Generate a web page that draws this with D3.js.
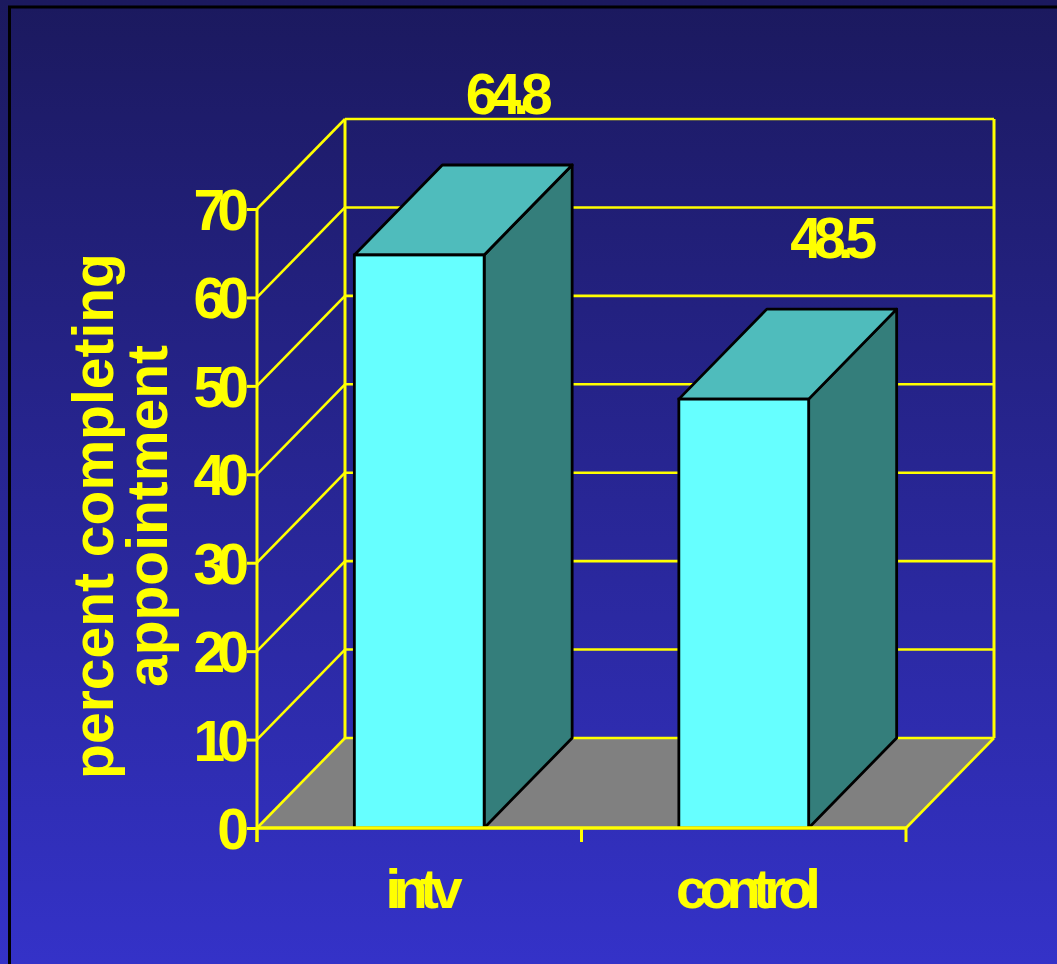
<!DOCTYPE html>
<html>
<head>
<meta charset="utf-8">
<script src="https://cdn.jsdelivr.net/npm/d3@7/dist/d3.min.js"></script>
<style>
  html, body { margin: 0; padding: 0; background: #3232c6; }
  svg { display: block; }
  text { font-family: "Liberation Sans", Arial, sans-serif; font-weight: bold; fill: #ffff00; }
</style>
</head>
<body>
<script>
const categories = ["intv", "control"];
const values = [64.8, 48.5];
const valueLabels = ["64.8", "48.5"];
const yTicks = [0, 10, 20, 30, 40, 50, 60, 70];
const titleLines = ["percent completing", "appointment"];

const W = 1057, H = 964;
const svg = d3.select("body").append("svg").attr("width", W).attr("height", H);

const defs = svg.append("defs");
const grad = defs.append("linearGradient").attr("id", "bg").attr("x1", 0).attr("y1", 0).attr("x2", 0).attr("y2", 1);
grad.append("stop").attr("offset", "0%").attr("stop-color", "#1b195e");
grad.append("stop").attr("offset", "100%").attr("stop-color", "#3432c8");
svg.append("rect").attr("width", W).attr("height", H).attr("fill", "url(#bg)");
svg.append("rect").attr("x", 9.5).attr("y", 7).attr("width", W + 20).attr("height", H + 20)
  .attr("fill", "none").attr("stroke", "#000").attr("stroke-width", 3);

const x0 = 257, x1 = 906;
const y = d3.scaleLinear().domain([0, 70]).range([828, 209]);
const x = d3.scaleBand().domain(categories).range([x0, x1]).paddingInner(0.6).paddingOuter(0.3);
const dx = 88, dy = -90;
const yellow = "#ffff00";

const g = svg.append("g");

// floor
const y0 = y(0);
g.append("path")
  .attr("d", `M${x0},${y0}L${x1},${y0}L${x1 + dx},${y0 + dy}L${x0 + dx},${y0 + dy}Z`)
  .attr("fill", "#808080");

// back wall gridlines
g.selectAll("line.grid").data(yTicks).join("line").attr("class", "grid")
  .attr("x1", x0 + dx).attr("x2", x1 + dx)
  .attr("y1", d => y(d) + dy).attr("y2", d => y(d) + dy)
  .attr("stroke", yellow).attr("stroke-width", 2.6);
// side wall diagonals
g.selectAll("line.diag").data(yTicks).join("line").attr("class", "diag")
  .attr("x1", x0).attr("x2", x0 + dx)
  .attr("y1", d => y(d)).attr("y2", d => y(d) + dy)
  .attr("stroke", yellow).attr("stroke-width", 2.6);
// back verticals
[x0 + dx, x1 + dx].forEach(xx => {
  g.append("line").attr("x1", xx).attr("x2", xx).attr("y1", y(70) + dy).attr("y2", y(0) + dy)
    .attr("stroke", yellow).attr("stroke-width", 3);
});
// floor right diagonal
g.append("line").attr("x1", x1).attr("y1", y0).attr("x2", x1 + dx).attr("y2", y0 + dy)
  .attr("stroke", yellow).attr("stroke-width", 2.6);

// bars
const bars = g.selectAll("g.bar").data(categories).join("g").attr("class", "bar");
bars.each(function (c, i) {
  const b = d3.select(this);
  const xl = x(c), xr = x(c) + x.bandwidth();
  const yt = y(values[i]), yb = y(0);
  // side
  b.append("path")
    .attr("d", `M${xr},${yb}L${xr + dx},${yb + dy}L${xr + dx},${yt + dy}L${xr},${yt}Z`)
    .attr("fill", "#347e7b").attr("stroke", "#000").attr("stroke-width", 2.8).attr("stroke-linejoin", "round");
  // top
  b.append("path")
    .attr("d", `M${xl},${yt}L${xl + dx},${yt + dy}L${xr + dx},${yt + dy}L${xr},${yt}Z`)
    .attr("fill", "#4fbcbc").attr("stroke", "#000").attr("stroke-width", 2.8).attr("stroke-linejoin", "round");
  // front
  b.append("rect").attr("x", xl).attr("y", yt).attr("width", xr - xl).attr("height", yb - yt)
    .attr("fill", "#66ffff").attr("stroke", "#000").attr("stroke-width", 2.8);
  // value label
  b.append("text")
    .attr("x", (xl + xr) / 2 + dx - 2)
    .attr("y", yt + dy - 51)
    .attr("text-anchor", "middle")
    .attr("font-size", 57).attr("letter-spacing", "-8px")
    .text(valueLabels[i]);
});

// front axis line
g.append("line").attr("x1", x0).attr("x2", x0).attr("y1", y(70)).attr("y2", y0 + 14)
  .attr("stroke", yellow).attr("stroke-width", 3);
// floor front edge
g.append("line").attr("x1", x0).attr("x2", x1).attr("y1", y0).attr("y2", y0)
  .attr("stroke", yellow).attr("stroke-width", 3.5);

// y axis ticks and labels
const yAxis = d3.axisLeft(y).tickValues(yTicks).tickSize(10).tickPadding(2).tickFormat(d3.format("d"));
const ya = svg.append("g").attr("transform", `translate(${x0},0)`).call(yAxis);
ya.select(".domain").remove();
ya.selectAll(".tick line").attr("stroke", yellow).attr("stroke-width", 3);
ya.selectAll(".tick text")
  .attr("fill", yellow).attr("font-size", 57).attr("letter-spacing", "-8px")
  .attr("font-family", "Liberation Sans, Arial, sans-serif").attr("font-weight", "bold")
  .attr("dx", "-4px").attr("dy", "0.36em");

// x axis ticks
const xTicks = [x0, (x0 + x1) / 2, x1];
svg.selectAll("line.xtick").data(xTicks).join("line").attr("class", "xtick")
  .attr("x1", d => d).attr("x2", d => d).attr("y1", y0).attr("y2", y0 + 14)
  .attr("stroke", yellow).attr("stroke-width", 3);

// category labels
svg.selectAll("text.cat").data(categories).join("text").attr("class", "cat")
  .attr("x", d => x(d) + x.bandwidth() / 2 + 1)
  .attr("y", 908)
  .attr("text-anchor", "middle")
  .attr("font-size", 56).attr("letter-spacing", "-7.5px")
  .text(d => d);

// axis title
const title = svg.append("text").attr("transform", "translate(0,516) rotate(-90)")
  .attr("text-anchor", "middle").attr("font-size", 57);
title.selectAll("tspan").data(titleLines).join("tspan")
  .attr("x", 0).attr("y", (d, i) => 113 + i * 54)
  .text(d => d);
</script>
</body>
</html>
